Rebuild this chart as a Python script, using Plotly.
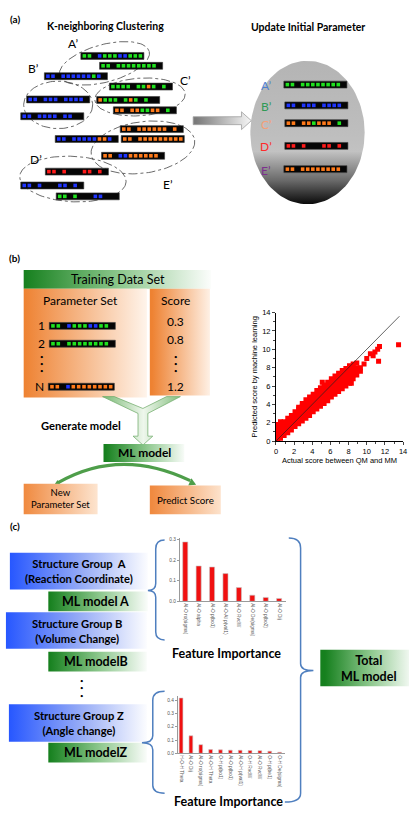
import numpy as np
import plotly.graph_objects as go

W, H = 413, 814
FONT = "Lato"
AXFONT = "Liberation Sans"

# ---------------- data ----------------
ACTUAL_SCORE = [
    0.2, 0.2, 0.2, 0.2, 0.2,
    0.5, 0.5, 0.5, 0.5, 0.5, 0.5,
    0.9, 0.9, 0.9, 0.9, 0.9,
    1.3, 1.3, 1.3, 1.3, 1.3,
    1.7, 1.7, 1.7, 1.7, 1.7,
    2.1, 2.1, 2.1, 2.1, 2.1,
    2.5, 2.5, 2.5, 2.5, 2.5, 2.5,
    2.9, 2.9, 2.9, 2.9, 2.9, 2.9,
    3.3, 3.3, 3.3, 3.3, 3.3, 3.3,
    3.7, 3.7, 3.7, 3.7, 3.7, 3.7,
    4.1, 4.1, 4.1, 4.1, 4.1, 4.1,
    4.5, 4.5, 4.5, 4.5, 4.5, 4.5,
    4.9, 4.9, 4.9, 4.9, 4.9, 4.9,
    5.3, 5.3, 5.3, 5.3, 5.3, 5.3,
    5.7, 5.7, 5.7, 5.7, 5.7, 5.7,
    6.1, 6.1, 6.1, 6.1, 6.1, 6.1,
    6.5, 6.5, 6.5, 6.5, 6.5, 6.5,
    6.9, 6.9, 6.9, 6.9, 6.9, 6.9,
    7.3, 7.3, 7.3, 7.3, 7.3, 7.3,
    7.7, 7.7, 7.7, 7.7, 7.7, 7.7,
    8.1, 8.1, 8.1, 8.1, 8.1, 8.1,
    8.5, 8.5, 8.5, 8.5, 8.5,
    8.9, 8.9, 8.9, 8.9,
    9.3, 9.3,
    5.1, 8.3, 9.7, 10.0, 10.4, 10.7, 10.9, 11.2, 11.4, 11.3, 13.5,
]
PREDICTED_SCORE = [
    0.2, 0.6, 1.0, 1.4, 1.8,
    0.3, 0.7, 1.1, 1.5, 1.9, 2.1,
    0.6, 1.0, 1.4, 1.8, 2.1,
    0.9, 1.3, 1.7, 2.1, 2.5,
    1.2, 1.6, 2.0, 2.4, 2.8,
    1.6, 2.0, 2.4, 2.8, 3.2,
    1.9, 2.3, 2.7, 3.1, 3.5, 3.7,
    2.2, 2.6, 3.0, 3.4, 3.8, 4.1,
    2.5, 2.9, 3.3, 3.7, 4.1, 4.5,
    2.8, 3.2, 3.6, 4.0, 4.4, 4.8,
    3.2, 3.6, 4.0, 4.4, 4.8, 5.1,
    3.5, 3.9, 4.3, 4.7, 5.1, 5.5,
    3.8, 4.2, 4.6, 5.0, 5.4, 5.8,
    4.1, 4.5, 4.9, 5.3, 5.7, 6.1,
    4.4, 4.8, 5.2, 5.6, 6.0, 6.4,
    4.8, 5.2, 5.6, 6.0, 6.4, 6.8,
    5.1, 5.5, 5.9, 6.3, 6.7, 7.1,
    5.4, 5.8, 6.2, 6.6, 7.0, 7.4,
    5.7, 6.1, 6.5, 6.9, 7.3, 7.7,
    6.0, 6.4, 6.8, 7.2, 7.6, 7.9,
    6.3, 6.7, 7.1, 7.5, 7.9, 8.2,
    6.8, 7.2, 7.6, 8.0, 8.4,
    7.2, 7.6, 8.0, 8.5,
    7.6, 8.0,
    6.4, 6.3, 8.4, 9.0, 9.5, 9.3, 9.7, 10.0, 10.3, 8.7, 10.5,
]
DIAGONAL = [0, 13.6]
SCATTER_TICKS = [0, 2, 4, 6, 8, 10, 12, 14]

FEATURES_A = ["Al-O ro(sigma)", "Al-O alpha", "Al-O p(bo1)", "Al-O-Al p(val1)",
              "Al-O RvdW", "Al-O De(sigma)", "Al-O p(bo2)", "Al-O Dij"]
IMPORTANCE_A = [0.289, 0.172, 0.167, 0.135, 0.067, 0.030, 0.019, 0.014]
TICKS_A = [0.0, 0.1, 0.2, 0.3]

FEATURES_Z = ["H-O-H Theta", "Al-O Dij", "Al-O ro(sigma)", "Al-O-H Theta", "O-H p(bo1)",
              "Al-O p(bo1)", "Al-O-H p(val1)", "O-H RvdW", "Al-O RvdW", "O-H p(be1)", "O-H De(sigma)"]
IMPORTANCE_Z = [0.417, 0.132, 0.065, 0.028, 0.026, 0.024, 0.023, 0.021, 0.020, 0.016, 0.008]
TICKS_Z = [0.0, 0.1, 0.2, 0.3, 0.4]

# parameter strips (g=green, b=blue, o=orange, r=red, .=empty)
CLUSTER_STRIPS = ["gg.bgggbbggg", "gg.gggggggg.", "bb.bbbbbbgb.", "gggg.ggog.g.", "bb.bbb.bbbb.",
                  "oggg.gog.g..", "bb.bbbb.bb..", "oo.ooggoo.g.", "oo.oooooo.o.", "bb.bbbbboob.",
                  "oo.ooooooooo", "oo.bboooooo.", "rr.r...rr.r.", "bb.b...bb.b.", "gg.g...bb..."]
UPDATED_STRIPS = ["gg.gggggggg.", "bb.bbb.bbbb.", "oo.oogooo.g.", "rr.r...rr.r.", "oo.oooooooo."]
UPDATED_LABELS = ["A’", "B’", "C’", "D’", "E’"]
TRAINING_STRIPS = ["gg.bgggbbgg.", "gg.gggggggg.", "oo.boooooooo"]
TRAINING_ROWS = ["1", "2", "N"]
TRAINING_SCORES = ["0.3", "0.8", "1.2"]
CLUSTER_LABELS = ["A’", "B’", "C’", "D’", "E’"]

# ---------------- layout helpers ----------------
CELL = {"g": "#1fe21f", "b": "#1f35ff", "o": "#ff7a1a", "r": "#ff1a1a"}

fig = go.Figure()
cells = {k: ([], []) for k in CELL}
strip_x, strip_y = [], []


def poly(xs, ys, fillcolor=None, grad=None, lc="rgba(0,0,0,0)", lw=0, dash=None, fill="toself"):
    tr = go.Scatter(x=list(xs), y=list(ys), mode="lines", fill=fill,
                    line=dict(color=lc, width=lw, dash=dash), hoverinfo="skip",
                    showlegend=False, xaxis="x", yaxis="y")
    if fillcolor:
        tr.fillcolor = fillcolor
    if grad:
        tr.fillgradient = grad
    fig.add_trace(tr)


def box(x0, y0, x1, y1, cs, lc="rgba(0,0,0,0)", lw=0):
    poly([x0, x1, x1, x0, x0], [y0, y0, y1, y1, y0],
         grad=dict(type="horizontal", colorscale=cs, start=x0, stop=x1), lc=lc, lw=lw)


def txt(x, y, s, size, color="black", bold=False, family=FONT, xa="center"):
    fig.add_annotation(x=x, y=y, xref="x", yref="y", text=("<b>%s</b>" % s) if bold else s,
                       showarrow=False, xanchor=xa, yanchor="middle",
                       font=dict(size=size, color=color, family=family))


def strip(pattern, x0, yc, w=64, h=7):
    strip_x.extend([x0, x0 + w, x0 + w, x0, x0, None])
    strip_y.extend([yc - h / 2, yc - h / 2, yc + h / 2, yc + h / 2, yc - h / 2, None])
    n = len(pattern)
    pitch = (w - 2) / n
    for i, c in enumerate(pattern):
        if c in CELL:
            cells[c][0].append(x0 + 1 + pitch * (i + 0.5))
            cells[c][1].append(yc)


def ellipse(cx, cy, a, b, deg, n=120):
    t = np.linspace(0, 2 * np.pi, n)
    th = np.radians(deg)
    xs = cx + a * np.cos(t) * np.cos(th) - b * np.sin(t) * np.sin(th)
    ys = cy + a * np.cos(t) * np.sin(th) + b * np.sin(t) * np.cos(th)
    return xs, ys


GREEN = [[0, "#16801e"], [0.5, "#8cc78c"], [1, "#ffffff"]]
BLUE = [[0, "#2757ff"], [0.5, "#93a9f6"], [1, "#ffffff"]]
ORANGE = [[0, "#ee8232"], [1, "#fff6ee"]]
ORANGE2 = [[0, "#f08a40"], [1, "#fde6d2"]]

# ================= panel (a) =================
txt(13, 15, "(a)", 10, bold=True)
txt(105, 22, "K-neighboring Clustering", 10.5, bold=True)
txt(310, 23, "Update Initial Parameter", 10.5, bold=True)

# gray ellipse with vertical gradient
ex, ey = ellipse(310, 130, 58, 72.5, 0)
poly(ex, ey, grad=dict(type="vertical",
                       colorscale=[[0, "#b4b4b4"], [0.5, "#bebebe"], [0.62, "#c2c2c2"],
                                   [0.82, "#6a6a6a"], [1, "#000000"]],
                       start=57.5, stop=202.5))

# big gradient arrow
poly([194, 243, 243, 253, 243, 243, 194, 194], [114, 114, 109, 118, 127, 122, 122, 114],
     grad=dict(type="horizontal", colorscale=[[0, "#7a7a7a"], [1, "#ffffff"]], start=194, stop=253),
     lc="#a0a0a0", lw=0.8)

# dash-dot cluster ellipses
for (cx, cy, a, b, d) in [(104, 60, 47, 19, -15), (57, 102, 35, 24, 0), (140, 94, 46, 19, -4),
                          (143, 145, 53, 26, -8), (72, 177, 54, 23, 3)]:
    xs, ys = ellipse(cx, cy, a, b, d)
    poly(xs, ys, lc="#444444", lw=0.8, dash="dashdot", fill="none")

cluster_pos = [(80, 52.5), (99, 62.5), (43, 73), (109, 83.5), (25, 96.5), (96, 97), (19, 113.5),
               (113, 107.5), (120, 126.5), (54, 136.5), (121, 136.5), (101, 153.5), (44, 169.5),
               (19, 183.5), (55, 194.5)]
for p, (x0, yc) in zip(CLUSTER_STRIPS, cluster_pos):
    strip(p, x0, yc)
for lab, (x, y) in zip(CLUSTER_LABELS, [(72, 40), (32, 65), (186, 77), (34, 157), (168, 183)]):
    txt(x, y, lab, 12)

updated_pos = [(286, 81.5), (287, 102.5), (287, 120.5), (287, 143.5), (286, 167)]
ucol = ["#4f7fd0", "#2f9a55", "#f5a077", "#ff2a2a", "#7d2f8f"]
for p, (x0, yc), lab, c in zip(UPDATED_STRIPS, updated_pos, UPDATED_LABELS, ucol):
    strip(p, x0, yc)
    txt(268, yc + 1, lab, 12, color=c)

# ================= panel (b) =================
txt(13, 257, "(b)", 10, bold=True)
box(22, 269, 212, 288, GREEN)
txt(118, 278.5, "Training Data Set", 12.5)
box(22, 288, 147, 398, ORANGE)
box(150, 288, 211, 396, ORANGE)
txt(80, 300, "Parameter Set", 12)
txt(176, 300, "Score", 12)
for lab, sc, p, (x0, yc) in zip(TRAINING_ROWS, TRAINING_SCORES, TRAINING_STRIPS,
                                [(48, 325.5), (48, 343.5), (47, 387)]):
    txt(40 if lab != "N" else 38, yc, lab, 12)
    txt(176, yc - 4 if lab != "N" else yc, sc, 12)
    strip(p, x0, yc, w=67)
for yy in [356, 363.5, 371]:
    txt(40, yy, "•", 6)
    txt(176, yy, "•", 6)

# Y-shaped arrow
poly([102, 114, 143, 167, 181, 148, 148, 153, 143, 133, 138, 138, 102],
     [397, 397, 409, 397, 397, 414, 437, 437, 446, 437, 437, 414, 397],
     grad=dict(type="horizontal", colorscale=[[0, "#78b872"], [0.5, "#eef7ec"], [1, "#78b872"]],
               start=100, stop=183), lc="#6aa864", lw=0.7)
txt(80, 426, "Generate model", 11.2, bold=True)
box(103, 445, 185, 463, GREEN)
txt(145, 454, "ML model", 12, bold=True)

# curved double arrow
fig.add_shape(type="path", path="M 57 484 Q 120 448 191 482", xref="x", yref="y",
              line=dict(color="#4e9e4a", width=3.2))
poly([197, 189, 192.2, 197], [486, 487, 479.6, 486], fillcolor="#4e9e4a")
poly([52, 56.3, 60.1, 52], [488, 481.2, 488.2, 488], fillcolor="#4e9e4a")
box(22, 485, 97, 516, ORANGE2)
txt(59.5, 500.5, "New<br>Parameter Set", 9.5)
box(150, 487, 222, 516, ORANGE2)
txt(186, 501.5, "Predict Score", 9.8)

# ================= panel (c) =================
txt(13, 528, "(c)", 10, bold=True)
box(8, 555, 148, 592, BLUE)
txt(78, 573.5, "Structure Group  A<br>(Reaction Coordinate)", 11.2, bold=True)
box(47, 594, 148, 614, GREEN)
txt(95, 604, "ML model A", 12.5, bold=True)
box(4, 615, 147, 652, BLUE)
txt(76, 633.5, "Structure Group B<br>(Volume Change)", 11.2, bold=True)
box(47, 655, 147, 675, GREEN)
txt(95, 665, "ML modelB", 12.5, bold=True)
for yy in [684, 691.5, 699]:
    txt(81, yy, "•", 6)
box(7, 708, 147, 746, BLUE)
txt(78, 727, "Structure Group Z<br>(Angle change)", 11.2, bold=True)
box(47, 747, 147, 767, GREEN)
txt(95, 757, "ML modelZ", 12.5, bold=True)

BR = "#4f7fbf"
fig.add_shape(type="path", xref="x", yref="y", line=dict(color=BR, width=1.5),
              path="M 165 542 Q 156 542 156 551 L 156 586 Q 156 593 148 593 Q 156 593 156 600 L 156 635 Q 156 643 165 643")
fig.add_shape(type="path", xref="x", yref="y", line=dict(color=BR, width=1.5),
              path="M 165 695 Q 153 695 153 704 L 153 740 Q 153 747 142 747 Q 153 747 153 754 L 153 790 Q 153 798 165 798")
fig.add_shape(type="path", xref="x", yref="y", line=dict(color=BR, width=1.5),
              path="M 291 540 Q 303 540 303 550 L 303 667 Q 303 674 316 674 Q 303 674 303 681 L 303 798 Q 303 807 287 807")
txt(228, 657, "Feature Importance", 12.5, bold=True)
txt(230, 806, "Feature Importance", 12.5, bold=True)
box(323, 653, 413, 690, GREEN)
txt(372, 671.5, "Total<br>ML model", 12.5, bold=True)

# strips (black backgrounds) and cells
poly(strip_x, strip_y, fillcolor="#050505", lc="#3a3a3a", lw=0.6)
for k, (xs, ys) in cells.items():
    fig.add_trace(go.Scatter(x=xs, y=ys, mode="markers", xaxis="x", yaxis="y",
                             marker=dict(symbol="square", size=3.6, color=CELL[k], line=dict(width=0)),
                             hoverinfo="skip", showlegend=False))

# ================= scatter =================
fig.add_trace(go.Scatter(x=ACTUAL_SCORE, y=PREDICTED_SCORE, mode="markers", xaxis="x2", yaxis="y2",
                         marker=dict(symbol="square", size=5, color="#ff0000", line=dict(width=0)),
                         showlegend=False))
fig.add_trace(go.Scatter(x=DIAGONAL, y=DIAGONAL, mode="lines", xaxis="x2", yaxis="y2",
                         line=dict(color="#222222", width=0.7), showlegend=False))

# ================= bar charts =================
fig.add_trace(go.Bar(x=FEATURES_A, y=IMPORTANCE_A, xaxis="x3", yaxis="y3", width=0.38,
                     marker=dict(color="#f01010", line=dict(color="#c8c8c8", width=0.6)), showlegend=False))
fig.add_trace(go.Bar(x=FEATURES_Z, y=IMPORTANCE_Z, xaxis="x4", yaxis="y4", width=0.38,
                     marker=dict(color="#f01010", line=dict(color="#c8c8c8", width=0.6)), showlegend=False))

hidden = dict(visible=False, showgrid=False, zeroline=False, fixedrange=True)
sc_ax = dict(range=[0, 14], tickvals=SCATTER_TICKS, ticks="outside", ticklen=3, tickwidth=0.8,
             showline=True, linecolor="black", linewidth=0.9, showgrid=False, zeroline=False,
             tickfont=dict(size=7.5, family=AXFONT, color="black"),
             minor=dict(ticks="outside", ticklen=2, dtick=1, tickwidth=0.6, showgrid=False))
bar_x = dict(showline=True, linecolor="#9a9a9a", linewidth=0.8, ticks="", tickangle=90,
             tickfont=dict(size=4.8, family=AXFONT, color="#555555"), showgrid=False, zeroline=False)
bar_y = dict(showline=True, linecolor="#9a9a9a", linewidth=0.8, ticks="outside", ticklen=2,
             tickcolor="#9a9a9a", tickfont=dict(size=4.8, family=AXFONT, color="#555555"),
             showgrid=False, zeroline=False)

fig.update_layout(
    width=W, height=H, margin=dict(l=0, r=0, t=0, b=0),
    paper_bgcolor="white", plot_bgcolor="rgba(0,0,0,0)",
    xaxis=dict(range=[0, W], domain=[0, 1], **hidden),
    yaxis=dict(range=[H, 0], domain=[0, 1], **hidden),
    xaxis2=dict(domain=[278 / W, 407 / W], anchor="y2",
                title=dict(text="Actual score between QM and MM", standoff=2,
                           font=dict(size=7.5, family=AXFONT, color="black")), **sc_ax),
    yaxis2=dict(domain=[1 - 442 / H, 1 - 312 / H], anchor="x2",
                title=dict(text="Predicted score by machine learning", standoff=3,
                           font=dict(size=7.5, family=AXFONT, color="black")), **sc_ax),
    xaxis3=dict(domain=[180.5 / W, 288 / W], anchor="y3", range=[-0.4, 7.5], **bar_x),
    yaxis3=dict(domain=[1 - 604 / H, 1 - 540 / H], anchor="x3", range=[0, 0.308],
                tickvals=TICKS_A, ticktext=["%.1f" % v for v in TICKS_A], **bar_y),
    xaxis4=dict(domain=[178.3 / W, 286.7 / W], anchor="y4", range=[-0.34, 10.5], **bar_x),
    yaxis4=dict(domain=[1 - 757.7 / H, 1 - 700 / H], anchor="x4", range=[0, 0.43],
                tickvals=TICKS_Z, ticktext=["%.1f" % v for v in TICKS_Z], **bar_y),
)

fig.write_html("out.html", config={"displayModeBar": False},
               post_script="document.body.style.margin='0px';")
